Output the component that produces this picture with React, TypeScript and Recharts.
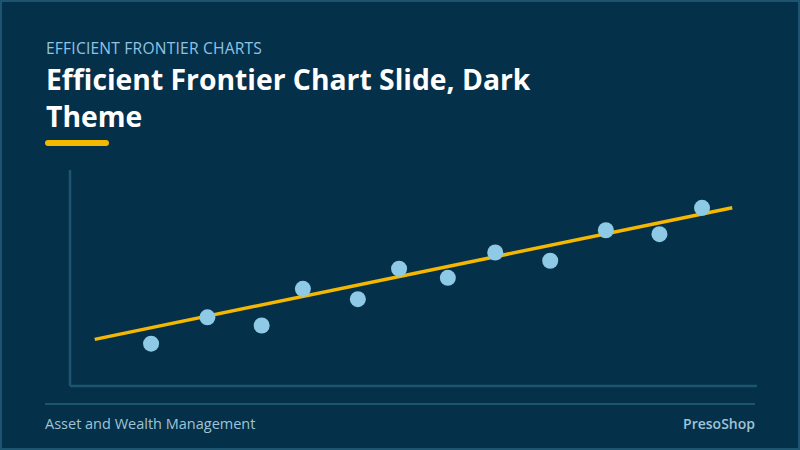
import React from 'react';
import { ComposedChart, Scatter, Line, XAxis, YAxis } from 'recharts';

// observed portfolios (risk vs return, scaled 0-100)
const RISK = [11.8, 20.0, 27.9, 33.9, 41.9, 47.9, 55.0, 61.9, 69.9, 78.0, 85.8, 92.0];
const RETURN = [19.6, 31.8, 28.0, 45.0, 40.2, 54.3, 50.1, 61.8, 58.0, 72.1, 70.3, 82.5];

// frontier trend line end points
const FIT_RISK = [3.6, 96.4];
const FIT_RETURN = [21.6, 82.5];

const points = RISK.map((x, i) => ({ x, y: RETURN[i] }));
const fit = FIT_RISK.map((x, i) => ({ x, y: FIT_RETURN[i] }));

const BG = '#05304a';
const AXIS = '#1d5570';
const FONT = '"Open Sans", "Noto Sans", sans-serif';

const Dot = (props: any) => <circle cx={props.cx} cy={props.cy} r={8} fill="#8ecae6" />;

export default function App() {
  return (
    <div style={{ width: 800, height: 450, position: 'relative', background: BG, border: `2px solid ${AXIS}`, boxSizing: 'border-box', fontFamily: FONT, overflow: 'hidden' }}>
      <style>{`body{margin:0}`}</style>

      <div style={{ position: 'absolute', left: 44, top: 35, fontSize: 15.6, color: '#8fc3e3', letterSpacing: 0.2 }}>
        EFFICIENT FRONTIER CHARTS
      </div>
      <div style={{ position: 'absolute', left: 44, top: 59, fontSize: 28.3, lineHeight: '37px', fontWeight: 700, color: '#ffffff' }}>
        Efficient Frontier Chart Slide, Dark<br />Theme
      </div>
      <div style={{ position: 'absolute', left: 43, top: 138, width: 64, height: 6, borderRadius: 3, background: '#f5b800' }} />

      <div style={{ position: 'absolute', left: 0, top: 0 }}>
        <ComposedChart width={798} height={446} margin={{ top: 168, right: 43, bottom: 61, left: 67 }}>
          <XAxis dataKey="x" type="number" domain={[0, 100]} height={1} tick={false} tickLine={false} axisLine={{ stroke: AXIS, strokeWidth: 2.5 }} />
          <YAxis dataKey="y" type="number" domain={[0, 100]} width={1} tick={false} tickLine={false} axisLine={{ stroke: AXIS, strokeWidth: 2.5 }} />
          <Line data={fit} dataKey="y" stroke="#f5b800" strokeWidth={3.5} dot={false} isAnimationActive={false} />
          <Scatter data={points} dataKey="y" shape={Dot} isAnimationActive={false} />
        </ComposedChart>
      </div>

      <div style={{ position: 'absolute', left: 43, right: 43, top: 401, height: 2, background: AXIS }} />
      <div style={{ position: 'absolute', left: 43, top: 412, fontSize: 14.5, color: '#9ec4d6' }}>
        Asset and Wealth Management
      </div>
      <div style={{ position: 'absolute', right: 43, top: 412, fontSize: 14, fontWeight: 600, color: '#9ec4d6' }}>
        PresoShop
      </div>
    </div>
  );
}
